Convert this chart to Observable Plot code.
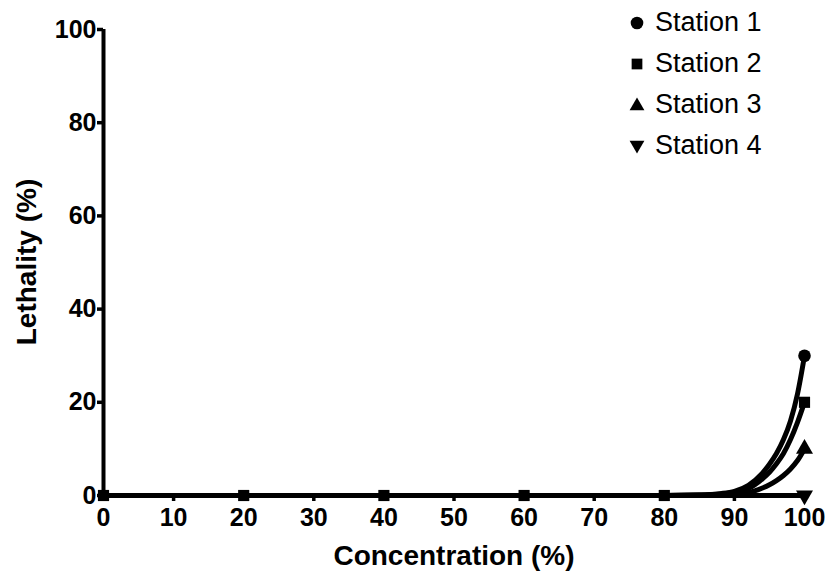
<!DOCTYPE html>
<html>
<head>
<meta charset="utf-8">
<script src="https://cdn.jsdelivr.net/npm/d3@7"></script>
<script src="https://cdn.jsdelivr.net/npm/@observablehq/plot@0.6"></script>
<style>
  html, body { margin: 0; padding: 0; background: #fff; }
  #wrap { position: relative; width: 828px; height: 571px; font-family: "Liberation Sans", Arial, sans-serif; color: #000; }
  #wrap > svg { position: absolute; left: 0; top: 0; }
  .xlabel { position: absolute; left: 454px; top: 542px; transform: translateX(-50%); font-size: 28px; font-weight: bold; line-height: 1; white-space: nowrap; }
  .ylabel { position: absolute; left: 27px; top: 262px; transform: translate(-50%, -50%) rotate(-90deg); font-size: 28px; font-weight: bold; line-height: 1; white-space: nowrap; }
  .legend { position: absolute; left: 628px; top: 2px; }
  .legend .row { display: flex; align-items: center; height: 41px; font-size: 27px; line-height: 1; white-space: nowrap; }
  #wrap .legend svg { position: static; display: block; width: 18px; height: 18px; margin-right: 9px; }
</style>
</head>
<body>
<div id="wrap"></div>
<script>
// ---- data ----
const stations = ["Station 1", "Station 2", "Station 3", "Station 4"];
const concentration = [0, 20, 40, 60, 80, 100];
const station1 = [0, 0, 0, 0, 0, 30];
const station2 = [0, 0, 0, 0, 0, 20];
const station3 = [0, 0, 0, 0, 0, 10];
const station4 = [0, 0, 0, 0, 0, 0];

// fitted curves
const fitConc = [0, 80, 85, 88, 90, 92, 94, 95, 96, 97, 98, 99, 100];
const fit1 = [0, 0, 0.1, 0.4, 0.9, 2.2, 4.8, 6.7, 9.0, 12.0, 16.0, 21.8, 30];
const fit2 = [0, 0, 0.1, 0.3, 0.7, 1.5, 3.6, 5.0, 6.8, 9.0, 12.0, 15.7, 20];
const fit3 = [0, 0, 0.05, 0.2, 0.4, 0.65, 1.6, 2.3, 3.2, 4.3, 5.7, 7.5, 10];
const fit4 = [0, 0, 0, 0, 0, 0, 0, 0, 0, 0, 0, 0, 0];

const xTicks = [0, 10, 20, 30, 40, 50, 60, 70, 80, 90, 100];
const yTicks = [0, 20, 40, 60, 80, 100];
const symbols = ["circle", "square", "triangle", "triangle"];
const rotations = [0, 0, 0, 180];

// ---- build tables ----
const seriesVals = [station1, station2, station3, station4];
const fitVals = [fit1, fit2, fit3, fit4];
// draw order: square last (on top), points hidden under an identical later point are skipped
const drawOrder = [3, 2, 0, 1];
const pointMap = new Map();
drawOrder.forEach(s => {
  concentration.forEach((c, i) => {
    const key = c + "|" + seriesVals[s][i];
    pointMap.delete(key);
    pointMap.set(key, {station: stations[s], conc: c, leth: seriesVals[s][i], rot: rotations[s]});
  });
});
const points = Array.from(pointMap.values());
const fits = [];
stations.forEach((st, s) => fitConc.forEach((c, i) => fits.push({station: st, conc: c, leth: fitVals[s][i]})));

const font = "Liberation Sans, Arial, sans-serif";

const chart = Plot.plot({
  width: 828,
  height: 571,
  marginLeft: 103,
  marginRight: 24,
  marginTop: 29,
  marginBottom: 76,
  style: {fontFamily: font, fontSize: "25px", fontWeight: "bold", background: "white", color: "black", overflow: "visible"},
  x: {domain: [0, 100]},
  y: {domain: [0, 100]},
  symbol: {domain: stations, range: symbols},
  marks: [
    Plot.axisX({ticks: xTicks, tickSize: 6, tickPadding: 7, strokeWidth: 3.5, label: null, fontSize: 25, fontWeight: "bold", fontFamily: font}),
    Plot.axisY({ticks: yTicks, tickSize: 6, tickPadding: 1, strokeWidth: 3.5, label: null, fontSize: 25, fontWeight: "bold", fontFamily: font}),
    Plot.ruleX([0], {strokeWidth: 4, stroke: "black"}),
    Plot.ruleY([0], {strokeWidth: 4, stroke: "black"}),
    Plot.line(fits, {x: "conc", y: "leth", z: "station", curve: "monotone-x", stroke: "black", strokeWidth: 5}),
    Plot.dot(points, {x: "conc", y: "leth", symbol: "station", rotate: "rot", r: 6.3, fill: "black", stroke: "none"})
  ]
});

const wrap = document.getElementById("wrap");
wrap.appendChild(chart);

const xl = document.createElement("div");
xl.className = "xlabel"; xl.textContent = "Concentration (%)";
wrap.appendChild(xl);
const yl = document.createElement("div");
yl.className = "ylabel"; yl.textContent = "Lethality (%)";
wrap.appendChild(yl);

// legend
const symMap = {circle: d3.symbolCircle, square: d3.symbolSquare, triangle: d3.symbolTriangle};
const symSize = {circle: 125, square: 115, triangle: 95};
const leg = document.createElement("div");
leg.className = "legend";
stations.forEach((st, i) => {
  const row = document.createElement("div");
  row.className = "row";
  const svg = d3.create("svg").attr("viewBox", "-9 -9 18 18");
  svg.append("path")
    .attr("d", d3.symbol(symMap[symbols[i]], symSize[symbols[i]])())
    .attr("transform", `rotate(${rotations[i]})` + (symbols[i] === "triangle" ? " translate(0,1)" : ""))
    .attr("fill", "black");
  row.appendChild(svg.node());
  const t = document.createElement("span");
  t.textContent = st;
  row.appendChild(t);
  leg.appendChild(row);
});
wrap.appendChild(leg);
</script>
</body>
</html>
